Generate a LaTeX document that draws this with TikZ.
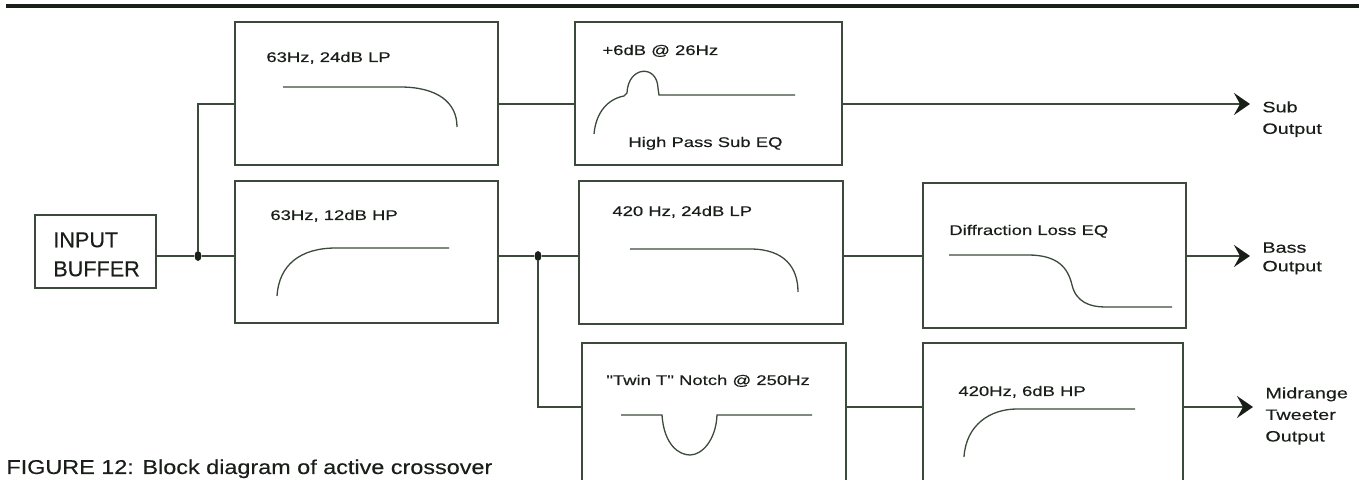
\documentclass[tikz,border=0pt]{standalone}
\usepackage{fontspec}
\usepackage{tikz}
\usetikzlibrary{arrows.meta, positioning, fit, shapes.geometric}
\newfontfamily\lblfont[FakeStretch=1.32,FakeBold=0.4]{Liberation Sans}
\newfontfamily\buffont[FakeBold=0.3]{Liberation Sans}
\newfontfamily\capfont[FakeStretch=1.17,FakeBold=0.3]{Liberation Sans}
\definecolor{inkline}{RGB}{60,74,60}
\definecolor{inktext}{RGB}{25,30,25}

\tikzset{
  blk/.style={draw=inkline, line width=0.65pt, inner sep=0pt},
  lbl/.style={font=\lblfont\fontsize{7}{9}\selectfont, text=inktext, inner sep=0pt, anchor=base west},
  resp/.style={draw=inkline, line width=0.65pt},
  sig/.style={draw=inkline, line width=0.65pt},
  outarr/.style={sig, -{Stealth[length=8pt,width=11pt,inset=3pt,line width=1pt,color=inktext,fill=inktext]}, shorten >=6pt},
  outlbl/.style={font=\lblfont\fontsize{7.5}{10.8}\selectfont, text=inktext, align=left, inner sep=0pt, anchor=north west},
  jdot/.style={ellipse, fill=inktext, minimum width=3.5pt, minimum height=5pt, inner sep=0pt}
}

\begin{document}
\begin{tikzpicture}[x=0.5pt, y=-0.5pt]
  \useasboundingbox (0,0) rectangle (1367,480);
  \clip (0,0) rectangle (1367,480);

  % heading rule
  \draw[line width=1.6pt, inktext] (6,6) -- (1359,6);

  % signal rows
  \coordinate (subrow) at (0,104);
  \coordinate (bassrow) at (0,256);
  \coordinate (midrow) at (0,407);

  % input buffer
  \node[blk, fit={(35,215) (156,288)}] (in1) {};
  \node[font=\buffont\fontsize{10.8}{14.5}\selectfont, text=inktext, align=left, inner sep=0pt, anchor=north west] (in1t) at (53,232) {INPUT\\BUFFER};

  % filter blocks
  \node[blk, fit={(235,22) (498,165)}] (lp63) {};
  \node[blk, fit={(575,22) (842,165)}] (hpsub) {};
  \node[blk, fit={(235,181) (498,323)}] (hp63) {};
  \node[blk, fit={(579,181) (843,324)}] (lp420) {};
  \node[blk, fit={(923,183) (1186,328)}] (diffeq) {};
  \node[blk, fit={(582,343) (846,520)}] (notch) {};
  \node[blk, fit={(923,343) (1183,520)}] (hp420) {};

  % block labels
  \node[lbl] (lp63t) at (266,62) {63Hz, 24dB LP};
  \node[lbl] (hpsubt) at (602,55) {+6dB @ 26Hz};
  \node[lbl] (hpsubb) at (628,147) {High Pass Sub EQ};
  \node[lbl] (hp63t) at (270,220) {63Hz, 12dB HP};
  \node[lbl] (lp420t) at (612,216) {420 Hz, 24dB LP};
  \node[lbl] (diffeqt) at (949,235) {Diffraction Loss EQ};
  \node[lbl] (notcht) at (606,385) {"Twin T" Notch @ 250Hz};
  \node[lbl] (hp420t) at (958,396) {420Hz, 6dB HP};

  % response sketches
  \draw[resp] (283,87) -- (400,87) .. controls (437,87) and (457,102) .. (457,127);
  \draw[resp] (594,134) .. controls (596,112) and (608,99) .. (624,96) -- (627,93)
    .. controls (628,66) and (657,64) .. (658,88) -- (659,95) -- (795,95);
  \draw[resp] (277,296) .. controls (279,265) and (300,248) .. (336,248) -- (449,248);
  \draw[resp] (630,249) -- (750,249) .. controls (785,249) and (798,268) .. (798,292);
  \draw[resp] (949,255) -- (1028,255) .. controls (1058,255) and (1068,268) .. (1072,285)
    .. controls (1076,302) and (1090,307) .. (1105,307) -- (1172,307);
  \draw[resp] (621,415) -- (662,415) .. controls (664,445) and (679,455) .. (690,455)
    .. controls (702,455) and (716,440) .. (717,415) -- (812,415);
  \draw[resp] (964,457) .. controls (966,425) and (990,409) .. (1017,409) -- (1135,409);

  % junctions
  \node[jdot] (j1) at (198,256) {};
  \node[jdot] (j2) at (538,256) {};

  % outputs
  \node[outlbl] (subout) at (1262,101) {Sub\\Output};
  \node[outlbl] (bassout) at (1262,242) {Bass\\[-1.5pt]Output};
  \node[outlbl] (midout) at (1265,387) {Midrange\\Tweeter\\Output};

  % connections
  \draw[sig] (in1.east |- bassrow) -- (j1) -- (hp63.west |- bassrow);
  \draw[sig] (j1) |- (lp63.west |- subrow);
  \draw[sig] (lp63.east |- subrow) -- (hpsub.west |- subrow);
  \draw[outarr] (hpsub.east |- subrow) -- (subout.west |- subrow);
  \draw[sig] (hp63.east |- bassrow) -- (j2) -- (lp420.west |- bassrow);
  \draw[sig] (j2) |- (notch.west |- midrow);
  \draw[sig] (lp420.east |- bassrow) -- (diffeq.west |- bassrow);
  \draw[outarr] (diffeq.east |- bassrow) -- (bassout.west |- bassrow);
  \draw[sig] (notch.east |- midrow) -- (hp420.west |- midrow);
  \draw[outarr] (hp420.east |- midrow) -- (midout.west |- midrow);

  % caption
  \node[font=\capfont\fontsize{10}{12}\selectfont, text=inktext, inner sep=0pt, anchor=base west] (caption) at (6,474) {FIGURE 12: Block diagram of active crossover};
\end{tikzpicture}
\end{document}
